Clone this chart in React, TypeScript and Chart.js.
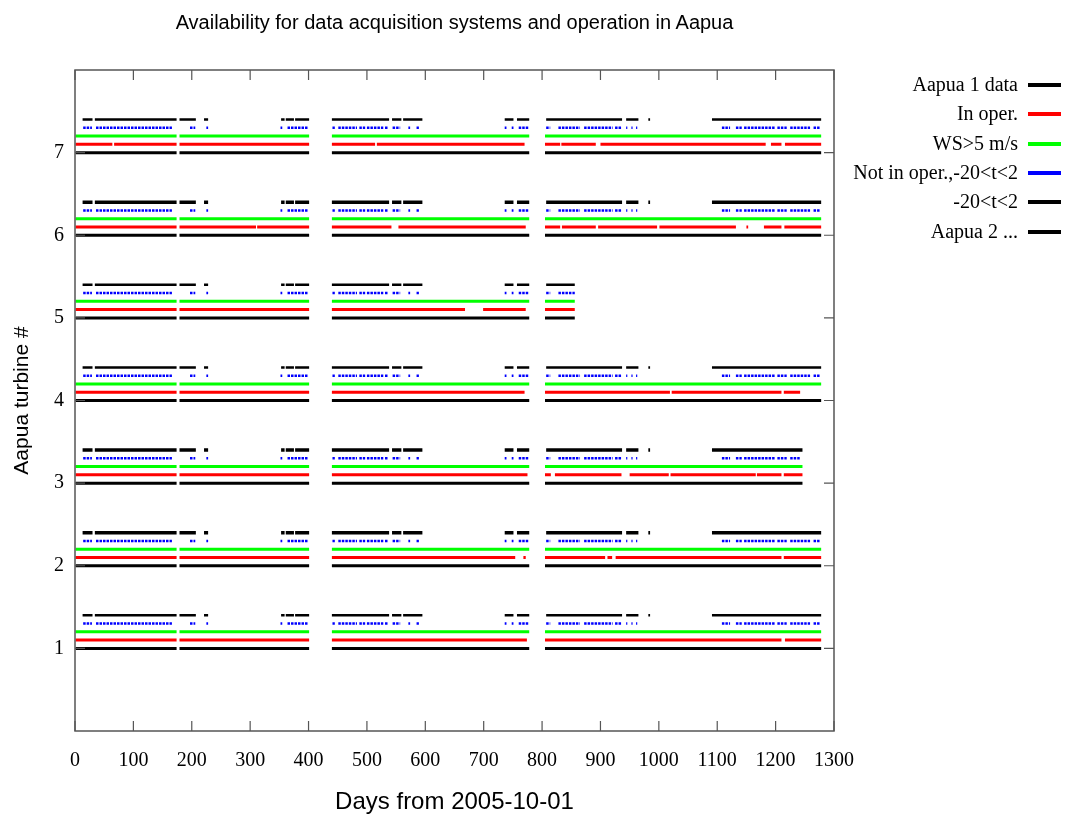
import React, { useEffect, useRef } from "react";
import { Chart, registerables } from "chart.js";

Chart.register(...registerables);

const TITLE = "Availability for data acquisition systems and operation in Aapua";
const X_TITLE = "Days from 2005-10-01";
const Y_TITLE = "Aapua turbine #";

const turbines = [1, 2, 3, 4, 5, 6, 7];
const xTickValues = [0, 100, 200, 300, 400, 500, 600, 700, 800, 900, 1000, 1100, 1200, 1300];
const yTickValues = [1, 2, 3, 4, 5, 6, 7];

const seriesLabels = ["Aapua 1 data", "In oper.", "WS>5 m/s", "Not in oper.,-20<t<2", "-20<t<2"];
// y value of each series relative to the turbine number
const seriesLevels = [0, 0.1, 0.2, 0.3, 0.4];
const legendLabels = [...seriesLabels, "Aapua 2 ..."];
const legendColors = ["#000000", "#ff0000", "#00ff00", "#0000ff", "#000000", "#000000"];

type Seg = [number, number];

// "data" availability (black, at turbine #)
const dataFull: Seg[] = [[1, 174], [179, 401], [440, 778], [805, 1278]];
const dataT3: Seg[] = [[1, 174], [179, 401], [440, 778], [805, 1246]];
const dataT5: Seg[] = [[1, 174], [179, 401], [440, 778], [805, 856]];
const dataSegs: Seg[][] = [dataFull, dataFull, dataT3, dataFull, dataT5, dataFull, dataFull];

// "In oper." (red)
const operT1: Seg[] = [[1, 174], [179, 401], [440, 774], [805, 1210], [1216, 1278]];
const operT2: Seg[] = [[1, 174], [179, 401], [440, 754], [768, 772], [805, 908], [912, 920], [926, 1210], [1214, 1278]];
const operT3: Seg[] = [[1, 174], [179, 401], [440, 775], [805, 815], [822, 936], [950, 1017], [1020, 1166], [1168, 1210], [1214, 1246]];
const operT4: Seg[] = [[1, 174], [179, 401], [440, 770], [805, 1019], [1022, 1210], [1214, 1242]];
const operT5: Seg[] = [[1, 174], [179, 401], [440, 668], [699, 772], [805, 856]];
const operT6: Seg[] = [[1, 174], [179, 310], [312, 401], [440, 542], [554, 772], [805, 831], [834, 892], [896, 997], [1001, 1132], [1150, 1153], [1180, 1210], [1215, 1278]];
const operT7: Seg[] = [[1, 64], [67, 174], [179, 401], [440, 514], [517, 770], [805, 831], [833, 892], [900, 1183], [1192, 1210], [1216, 1278]];
const operSegs: Seg[][] = [operT1, operT2, operT3, operT4, operT5, operT6, operT7];

// "WS>5 m/s" (green)
const windFull: Seg[] = [[1, 174], [179, 401], [440, 778], [805, 1278]];
const windT3: Seg[] = [[1, 174], [179, 401], [440, 778], [805, 1246]];
const windT5: Seg[] = [[1, 174], [179, 401], [440, 778], [805, 856]];
const windSegs: Seg[][] = [windFull, windFull, windT3, windFull, windT5, windFull, windFull];

// "Not in oper.,-20<t<2" (blue)
const idleFull: Seg[] = [[14, 29], [36, 166], [197, 206], [225, 228], [352, 355], [364, 400], [441, 445], [451, 483], [487, 497], [500, 528], [531, 537], [544, 557], [571, 574], [585, 589], [736, 739], [748, 751], [760, 778], [807, 814], [828, 865], [872, 921], [925, 936], [944, 946], [953, 955], [961, 963], [1108, 1122], [1132, 1142], [1146, 1199], [1203, 1219], [1225, 1259], [1265, 1276]];
const idleT3: Seg[] = [[14, 29], [36, 166], [197, 206], [225, 228], [352, 355], [364, 400], [441, 445], [451, 483], [487, 497], [500, 528], [531, 537], [544, 557], [571, 574], [585, 589], [736, 739], [748, 751], [760, 778], [807, 814], [828, 865], [872, 921], [925, 936], [944, 946], [953, 955], [961, 963], [1108, 1122], [1132, 1142], [1146, 1199], [1203, 1219], [1225, 1242]];
const idleT5: Seg[] = [[14, 29], [36, 166], [197, 206], [225, 228], [352, 355], [364, 400], [441, 445], [451, 483], [487, 497], [500, 528], [531, 537], [544, 557], [571, 574], [585, 589], [736, 739], [748, 751], [760, 778], [807, 814], [828, 856]];
const idleSegs: Seg[][] = [idleFull, idleFull, idleT3, idleFull, idleT5, idleFull, idleFull];

// "-20<t<2" (black, top row)
const coldFull: Seg[] = [[13, 30], [34, 174], [179, 207], [221, 228], [353, 359], [361, 375], [377, 401], [440, 538], [543, 559], [562, 595], [736, 751], [757, 778], [807, 937], [944, 965], [982, 985], [1091, 1278]];
const coldT3: Seg[] = [[13, 30], [34, 174], [179, 207], [221, 228], [353, 359], [361, 375], [377, 401], [440, 538], [543, 559], [562, 595], [736, 751], [757, 778], [807, 937], [944, 965], [982, 985], [1091, 1246]];
const coldT5: Seg[] = [[13, 30], [34, 174], [179, 207], [221, 228], [353, 359], [361, 375], [377, 401], [440, 538], [543, 559], [562, 595], [736, 751], [757, 778], [807, 856]];
const coldSegs: Seg[][] = [coldFull, coldFull, coldT3, coldFull, coldT5, coldFull, coldFull];

const allSeries: Seg[][][] = [dataSegs, operSegs, windSegs, idleSegs, coldSegs];

const SERIES_COLORS = ["#000000", "#ff0000", "#00ff00", "#0000ff", "#000000"];
const BOLD_COLD = new Set([2, 3, 6]);

function toPoints(segs: Seg[], y: number) {
  const pts: { x: number; y: number | null }[] = [];
  segs.forEach(([a, b]) => {
    pts.push({ x: a, y }, { x: b, y }, { x: b, y: null });
  });
  return pts;
}

const framePlugin = {
  id: "gnuFrame",
  afterDatasetsDraw(chart: any) {
    const { ctx, chartArea } = chart;
    const { left, right, top, bottom } = chartArea;
    const xs = chart.scales.x;
    const ys = chart.scales.y;
    ctx.save();
    ctx.strokeStyle = "#555555";
    ctx.lineWidth = 1.5;
    ctx.beginPath();
    ctx.rect(left, top, right - left, bottom - top);
    ctx.stroke();
    ctx.lineWidth = 1.2;
    ctx.beginPath();
    const tl = 10;
    xTickValues.forEach((v) => {
      const px = xs.getPixelForValue(v);
      ctx.moveTo(px, bottom);
      ctx.lineTo(px, bottom - tl);
      ctx.moveTo(px, top);
      ctx.lineTo(px, top + tl);
    });
    yTickValues.forEach((v) => {
      const py = ys.getPixelForValue(v);
      ctx.moveTo(left, py);
      ctx.lineTo(left + tl, py);
      ctx.moveTo(right, py);
      ctx.lineTo(right - tl, py);
    });
    ctx.stroke();
    ctx.restore();
  },
};

export default function App() {
  const canvasRef = useRef<HTMLCanvasElement | null>(null);

  useEffect(() => {
    if (!canvasRef.current) return;
    const datasets: any[] = [];
    turbines.forEach((t, ti) => {
      allSeries.forEach((series, si) => {
        const isDotted = si === 3;
        let width = 3;
        if (si === 3) width = 2.5;
        if (si === 4) width = BOLD_COLD.has(t) ? 3.5 : 2.5;
        datasets.push({
          label: `${t} ${seriesLabels[si]}`,
          data: toPoints(series[ti], t + seriesLevels[si]),
          borderColor: SERIES_COLORS[si],
          backgroundColor: SERIES_COLORS[si],
          borderWidth: width,
          borderDash: isDotted ? [2.5, 1] : [],
          borderCapStyle: "butt",
          pointRadius: 0,
          pointHoverRadius: 0,
          spanGaps: false,
          fill: false,
          tension: 0,
        });
      });
    });

    const chart = new Chart(canvasRef.current, {
      type: "line",
      data: { datasets },
      options: {
        animation: false,
        responsive: false,
        devicePixelRatio: 1,
        events: [],
        layout: { padding: { left: 0, top: 70, right: 232, bottom: 0 } },
        plugins: {
          legend: { display: false },
          tooltip: { enabled: false },
          title: { display: false },
        },
        scales: {
          x: {
            type: "linear",
            min: 0,
            max: 1300,
            afterBuildTicks: (s: any) => {
              s.ticks = xTickValues.map((v) => ({ value: v }));
            },
            afterFit: (s: any) => {
              s.height = 83;
            },
            ticks: {
              color: "#000",
              font: { family: "'Liberation Serif', 'Times New Roman', serif", size: 20 },
              padding: 18,
              maxRotation: 0,
              autoSkip: false,
              callback: (v: any) => String(v),
            },
            grid: { display: false, drawTicks: false },
            border: { display: false },
            title: {
              display: true,
              text: X_TITLE,
              color: "#000",
              font: { family: "'Liberation Sans', Arial, sans-serif", size: 24, lineHeight: 1 },
              padding: { top: 0, bottom: 0 },
            },
          },
          y: {
            type: "linear",
            min: 0,
            max: 8,
            afterBuildTicks: (s: any) => {
              s.ticks = yTickValues.map((v) => ({ value: v }));
            },
            afterFit: (s: any) => {
              s.width = 75;
            },
            ticks: {
              color: "#000",
              font: { family: "'Liberation Serif', 'Times New Roman', serif", size: 20 },
              padding: 11,
              callback: (v: any) => String(v),
            },
            grid: { display: false, drawTicks: false },
            border: { display: false },
            title: {
              display: true,
              text: Y_TITLE,
              color: "#000",
              font: { family: "'Liberation Sans', Arial, sans-serif", size: 21, lineHeight: 1.2 },
              padding: { top: 10, bottom: 0 },
            },
          },
        },
      },
      plugins: [framePlugin],
    } as any);
    return () => chart.destroy();
  }, []);

  return (
    <div style={{ position: "fixed", left: 0, top: 0, width: 1066, height: 814, background: "#fff", overflow: "hidden" }}>
      <canvas ref={canvasRef} width={1066} height={814} style={{ display: "block", width: 1066, height: 814 }} />
      <div
        style={{
          position: "absolute",
          left: 75,
          width: 759,
          top: 12,
          textAlign: "center",
          fontFamily: "'Liberation Sans', Arial, sans-serif",
          fontSize: 20,
          lineHeight: "20px",
          color: "#000",
          whiteSpace: "nowrap",
        }}
      >
        {TITLE}
      </div>
      {legendLabels.map((lab, i) => {
        const yc = 85 + i * 29.3;
        return (
          <React.Fragment key={lab}>
            <div
              style={{
                position: "absolute",
                right: 1066 - 1018,
                top: yc - 11,
                fontFamily: "'Liberation Serif', 'Times New Roman', serif",
                fontSize: 20,
                lineHeight: "20px",
                color: "#000",
                whiteSpace: "nowrap",
              }}
            >
              {lab}
            </div>
            <div
              style={{
                position: "absolute",
                left: 1028,
                width: 33,
                top: yc - 2,
                height: 4,
                background: legendColors[i],
              }}
            />
          </React.Fragment>
        );
      })}
    </div>
  );
}
